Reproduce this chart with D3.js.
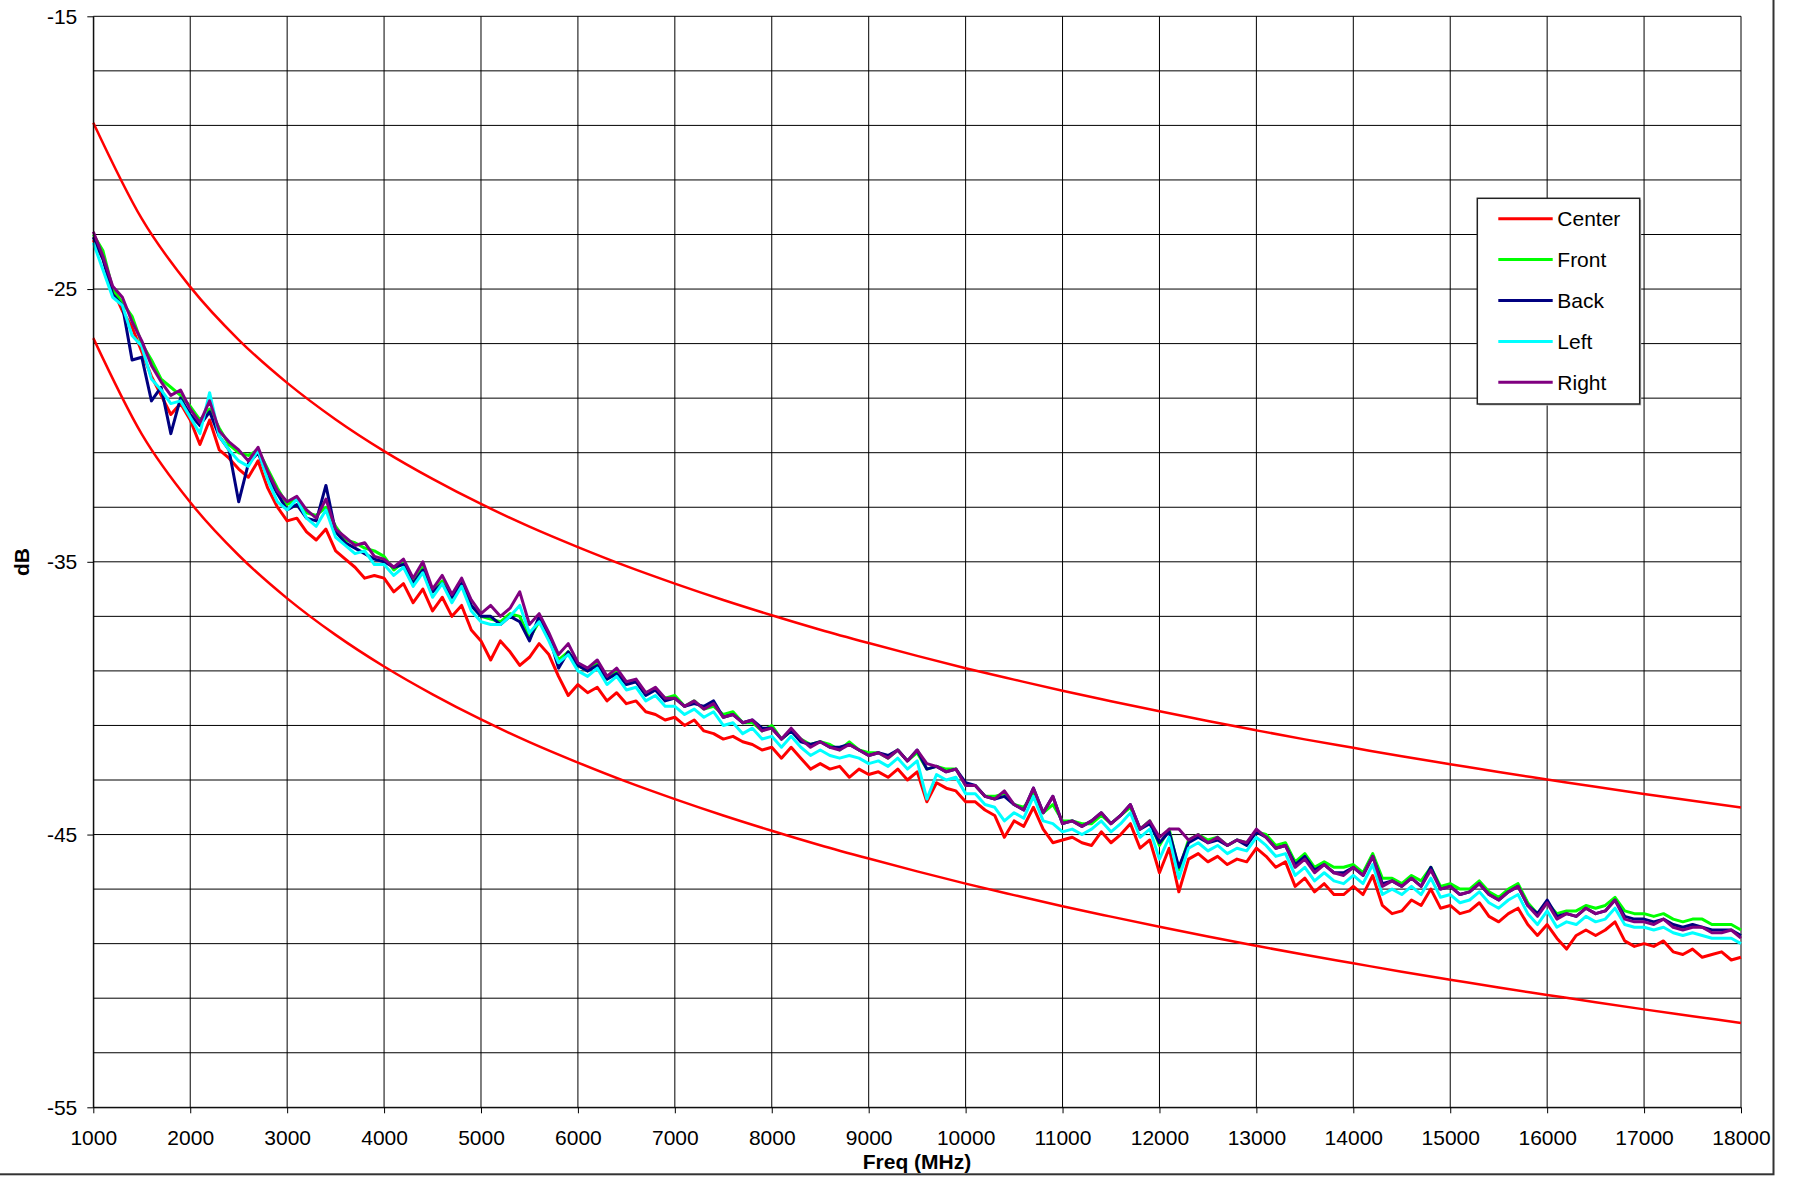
<!DOCTYPE html>
<html>
<head>
<meta charset="utf-8">
<script src="https://d3js.org/d3.v7.min.js"></script>
<style>
  body { margin: 0; background: #fff; }
  svg { display: block; font-family: 'Liberation Sans', Arial, sans-serif; }
</style>
</head>
<body>
<div id="chart"></div>
<script>
// axis ticks
const xTicks = [1000, 2000, 3000, 4000, 5000, 6000, 7000, 8000, 9000, 10000, 11000, 12000, 13000, 14000, 15000, 16000, 17000, 18000];
const yTicks = [-15, -25, -35, -45, -55];
const yGrid = [-15, -17, -19, -21, -23, -25, -27, -29, -31, -33, -35, -37, -39, -41, -43, -45, -47, -49, -51, -53, -55];

// sweep is sampled every 100 MHz
const freqs = d3.range(1000, 18001, 100);

const seriesNames = ['Center', 'Front', 'Back', 'Left', 'Right'];
const seriesColors = ['#ff0000', '#00ff00', '#000080', '#00ffff', '#800080'];

const center = [
  -23.2, -23.9, -25.0, -25.8, -26.4, -27.3, -28.2, -28.9, -29.6, -29.2,
  -29.8, -30.7, -29.8, -30.9, -31.2, -31.6, -31.9, -31.3, -32.3, -33.0,
  -33.5, -33.4, -33.9, -34.2, -33.8, -34.6, -34.9, -35.2, -35.6, -35.5,
  -35.6, -36.1, -35.8, -36.5, -36.0, -36.8, -36.3, -37.0, -36.6, -37.5,
  -37.9, -38.6, -37.9, -38.3, -38.8, -38.5, -38.0, -38.4, -39.2, -39.9,
  -39.5, -39.8, -39.6, -40.1, -39.8, -40.2, -40.1, -40.5, -40.6, -40.8,
  -40.7, -41.0, -40.8, -41.2, -41.3, -41.5, -41.4, -41.6, -41.7, -41.9,
  -41.8, -42.2, -41.8, -42.2, -42.6, -42.4, -42.6, -42.5, -42.9, -42.6,
  -42.8, -42.7, -42.9, -42.6, -43.0, -42.7, -43.8, -43.1, -43.3, -43.4,
  -43.8, -43.8, -44.1, -44.3, -45.1, -44.5, -44.7, -44.0, -44.8, -45.3,
  -45.2, -45.1, -45.3, -45.4, -44.9, -45.3, -45.0, -44.6, -45.5, -45.2,
  -46.4, -45.5, -47.1, -45.9, -45.7, -46.0, -45.8, -46.1, -45.9, -46.0,
  -45.5, -45.8, -46.2, -46.0, -46.9, -46.6, -47.1, -46.8, -47.2, -47.2,
  -46.9, -47.2, -46.5, -47.6, -47.9, -47.8, -47.4, -47.6, -47.0, -47.7,
  -47.6, -47.9, -47.8, -47.5, -48.0, -48.2, -47.9, -47.7, -48.3, -48.7,
  -48.3, -48.8, -49.2, -48.7, -48.5, -48.7, -48.5, -48.2, -48.9, -49.1,
  -49.0, -49.1, -48.9, -49.3, -49.4, -49.2, -49.5, -49.4, -49.3, -49.6,
  -49.5,
];

const front = [
  -23.0, -23.6, -25.0, -25.5, -26.0, -27.0, -27.6, -28.3, -28.6, -28.9,
  -29.3, -29.8, -29.4, -30.1, -30.7, -31.0, -31.1, -30.9, -31.6, -32.3,
  -32.9, -32.7, -33.2, -33.3, -33.0, -33.7, -34.2, -34.3, -34.5, -34.6,
  -34.8, -35.3, -35.0, -35.7, -35.2, -36.1, -35.7, -36.3, -35.8, -36.6,
  -37.0, -37.1, -37.2, -36.9, -37.0, -37.8, -37.2, -37.7, -38.6, -38.3,
  -38.8, -39.0, -38.7, -39.3, -39.0, -39.4, -39.4, -39.8, -39.7, -40.0,
  -39.9, -40.3, -40.1, -40.4, -40.3, -40.6, -40.5, -40.9, -40.9, -41.2,
  -41.0, -41.5, -41.2, -41.5, -41.7, -41.6, -41.7, -41.9, -41.6, -41.9,
  -42.0, -42.0, -42.2, -41.9, -42.3, -42.0, -42.6, -42.5, -42.6, -42.6,
  -43.2, -43.2, -43.6, -43.6, -43.5, -43.9, -44.0, -43.5, -44.2, -43.9,
  -44.5, -44.5, -44.6, -44.6, -44.3, -44.6, -44.3, -44.0, -44.8, -44.5,
  -45.4, -44.8, -46.3, -45.2, -45.0, -45.2, -45.1, -45.4, -45.2, -45.3,
  -44.9, -45.0, -45.4, -45.3, -46.0, -45.7, -46.2, -46.0, -46.2, -46.2,
  -46.1, -46.4, -45.7, -46.6, -46.6, -46.8, -46.5, -46.7, -46.2, -46.9,
  -46.8, -47.0, -47.0, -46.7, -47.1, -47.3, -47.0, -46.8, -47.5, -47.9,
  -47.5, -47.9, -47.8, -47.8, -47.6, -47.7, -47.6, -47.3, -47.8, -47.9,
  -47.9, -48.0, -47.9, -48.1, -48.2, -48.1, -48.1, -48.3, -48.3, -48.3,
  -48.5,
];

const back = [
  -23.1, -23.9, -25.2, -25.6, -27.6, -27.5, -29.1, -28.6, -30.3, -29.0,
  -29.6, -30.0, -29.5, -30.4, -30.9, -32.8, -31.4, -31.0, -31.9, -32.5,
  -33.1, -32.9, -33.4, -33.5, -32.2, -33.9, -34.3, -34.5, -34.7, -34.9,
  -35.0, -35.2, -35.1, -35.8, -35.3, -36.1, -35.8, -36.3, -35.8, -36.6,
  -37.0, -37.0, -37.3, -37.0, -37.2, -37.9, -37.0, -37.7, -38.9, -38.3,
  -38.8, -39.0, -38.8, -39.3, -39.1, -39.5, -39.4, -39.9, -39.7, -40.1,
  -40.0, -40.3, -40.2, -40.3, -40.1, -40.7, -40.6, -40.9, -40.8, -41.1,
  -41.1, -41.5, -41.2, -41.6, -41.7, -41.6, -41.8, -41.8, -41.7, -41.9,
  -42.1, -42.0, -42.1, -41.9, -42.3, -41.9, -42.6, -42.5, -42.7, -42.6,
  -43.1, -43.2, -43.6, -43.7, -43.6, -43.9, -44.1, -43.3, -44.2, -43.6,
  -44.6, -44.5, -44.7, -44.5, -44.2, -44.6, -44.3, -43.9, -44.8, -44.6,
  -45.3, -44.9, -46.2, -45.3, -45.1, -45.3, -45.2, -45.4, -45.2, -45.4,
  -44.9, -45.1, -45.5, -45.4, -46.1, -45.8, -46.3, -46.1, -46.4, -46.4,
  -46.2, -46.5, -45.8, -46.8, -46.7, -46.9, -46.6, -46.9, -46.2, -47.0,
  -46.9, -47.2, -47.1, -46.8, -47.2, -47.4, -47.1, -46.9, -47.6, -47.9,
  -47.4, -48.0, -47.9, -48.0, -47.7, -47.9, -47.8, -47.4, -48.0, -48.1,
  -48.1, -48.2, -48.1, -48.3, -48.4, -48.3, -48.4, -48.5, -48.5, -48.5,
  -48.7,
];

const left = [
  -23.3, -24.3, -25.3, -25.6, -26.7, -27.1, -28.3, -28.7, -29.2, -29.1,
  -29.7, -30.3, -28.8, -30.4, -30.9, -31.3, -31.5, -30.9, -32.0, -32.8,
  -33.1, -32.7, -33.4, -33.7, -33.1, -34.1, -34.4, -34.7, -34.6, -35.1,
  -35.1, -35.5, -35.2, -35.9, -35.4, -36.3, -35.8, -36.5, -35.9, -36.8,
  -37.2, -37.3, -37.3, -37.0, -36.6, -37.6, -37.2, -37.9, -38.7, -38.4,
  -39.0, -39.2, -38.9, -39.5, -39.2, -39.7, -39.6, -40.1, -39.9, -40.3,
  -40.3, -40.6, -40.4, -40.7, -40.5, -41.0, -40.9, -41.3, -41.1, -41.5,
  -41.4, -41.8, -41.4, -41.8, -42.1, -41.9, -42.1, -42.2, -42.1, -42.2,
  -42.4, -42.3, -42.5, -42.2, -42.6, -42.3, -43.7, -42.8, -43.0, -42.9,
  -43.5, -43.5, -43.9, -44.0, -44.5, -44.2, -44.4, -43.6, -44.5, -44.6,
  -44.9, -44.8, -45.0, -44.8, -44.5, -44.9, -44.6, -44.2, -45.1, -44.8,
  -45.9, -45.1, -46.6, -45.5, -45.3, -45.6, -45.4, -45.7, -45.5, -45.6,
  -45.1, -45.4, -45.8, -45.7, -46.5, -46.2, -46.7, -46.4, -46.7, -46.8,
  -46.5, -46.8, -46.1, -47.2, -47.0, -47.2, -46.9, -47.2, -46.6, -47.3,
  -47.2, -47.5, -47.4, -47.1, -47.5, -47.7, -47.4, -47.2, -47.9, -48.3,
  -47.8, -48.4, -48.2, -48.3, -48.0, -48.2, -48.1, -47.7, -48.3, -48.4,
  -48.4, -48.5, -48.4, -48.6, -48.7, -48.6, -48.7, -48.8, -48.8, -48.8,
  -49.0,
];

const right = [
  -22.9, -23.8, -24.9, -25.3, -26.2, -26.9, -27.8, -28.4, -28.9, -28.7,
  -29.4, -29.9, -29.1, -30.2, -30.6, -30.9, -31.3, -30.8, -31.7, -32.4,
  -32.8, -32.6, -33.1, -33.4, -32.7, -33.8, -34.1, -34.4, -34.3, -34.8,
  -34.9, -35.2, -34.9, -35.6, -35.0, -36.0, -35.5, -36.2, -35.6, -36.4,
  -36.9, -36.6, -37.0, -36.7, -36.1, -37.3, -36.9, -37.6, -38.4, -38.0,
  -38.7, -38.9, -38.6, -39.2, -38.9, -39.4, -39.3, -39.8, -39.6, -40.0,
  -40.0, -40.3, -40.1, -40.4, -40.2, -40.7, -40.6, -40.9, -40.8, -41.2,
  -41.1, -41.5, -41.1, -41.5, -41.8, -41.6, -41.8, -41.9, -41.7, -41.9,
  -42.1, -42.0, -42.2, -41.9, -42.3, -41.9, -42.4, -42.5, -42.7, -42.6,
  -43.2, -43.2, -43.6, -43.7, -43.4, -43.9, -44.1, -43.3, -44.2, -43.6,
  -44.6, -44.5, -44.7, -44.5, -44.2, -44.6, -44.3, -43.9, -44.8, -44.5,
  -45.1, -44.8, -44.8, -45.2, -45.0, -45.3, -45.1, -45.4, -45.2, -45.3,
  -44.8, -45.1, -45.5, -45.4, -46.2, -45.9, -46.4, -46.1, -46.4, -46.5,
  -46.2, -46.5, -45.8, -46.9, -46.7, -46.9, -46.6, -46.9, -46.3, -47.0,
  -46.9, -47.2, -47.1, -46.8, -47.2, -47.4, -47.1, -46.9, -47.6, -48.0,
  -47.5, -48.1, -47.9, -48.0, -47.7, -47.9, -47.8, -47.4, -48.1, -48.2,
  -48.2, -48.3, -48.1, -48.4, -48.5, -48.4, -48.4, -48.6, -48.6, -48.5,
  -48.8,
];

// limit lines, read every 500 MHz
const limitFreqs = [
  1000, 1500, 2000, 2500, 3000, 3500, 4000, 4500, 5000, 5500, 6000, 6500,
  7000, 7500, 8000, 8500, 9000, 9500, 10000, 10500, 11000, 11500, 12000, 12500,
  13000, 13500, 14000, 14500, 15000, 15500, 16000, 16500, 17000, 17500, 18000,
];
const upperLimit = [
  -18.90, -22.42, -24.92, -26.86, -28.44, -29.78, -30.94, -31.96, -32.88, -33.71,
  -34.46, -35.16, -35.80, -36.40, -36.96, -37.49, -37.98, -38.45, -38.90, -39.32,
  -39.73, -40.11, -40.48, -40.84, -41.18, -41.51, -41.82, -42.13, -42.42, -42.71,
  -42.98, -43.25, -43.51, -43.76, -44.01,
];
const lowerLimit = [
  -26.80, -30.32, -32.82, -34.76, -36.34, -37.68, -38.84, -39.86, -40.78, -41.61,
  -42.36, -43.06, -43.70, -44.30, -44.86, -45.39, -45.88, -46.35, -46.80, -47.22,
  -47.63, -48.01, -48.38, -48.74, -49.08, -49.41, -49.72, -50.03, -50.32, -50.61,
  -50.88, -51.15, -51.41, -51.66, -51.91,
];

class SweepChart {
  constructor(selector) {
    this.selector = selector;

    this.width = 1798;
    this.height = 1177;
    this.plot = { left: 93.3, right: 1741, top: 16.3, bottom: 1107.3 };
    this.fontSize = 21;
    this.lineWidth = 3;

    this.svg = null;
    this.scales = { x: null, y: null };
    this.series = seriesNames.map((name, i) => ({
      name,
      color: seriesColors[i],
      values: [center, front, back, left, right][i],
    }));
  }

  draw() {
    return this
      .setUpSVG()
      .setUpScales()
      .drawGrid()
      .drawLines()
      .drawAxes()
      .drawLegend();
  }

  setUpSVG() {
    this.svg = d3.select(this.selector)
      .append('svg')
      .attr('width', this.width)
      .attr('height', this.height);

    this.svg.append('rect')
      .attr('width', this.width)
      .attr('height', this.height)
      .attr('fill', '#fff');

    // outer chart frame, only right and bottom edges fall inside the picture
    this.svg.append('rect')
      .attr('x', -3)
      .attr('y', -3)
      .attr('width', 1776.5)
      .attr('height', 1177.3)
      .attr('fill', 'none')
      .attr('stroke', '#333')
      .attr('stroke-width', 2);

    return this;
  }

  setUpScales() {
    const { left, right, top, bottom } = this.plot;

    this.scales.x = d3.scaleLinear()
      .domain([1000, 18000])
      .range([left, right]);

    this.scales.y = d3.scaleLinear()
      .domain([-55, -15])
      .range([bottom, top]);

    return this;
  }

  drawGrid() {
    const { x, y } = this.scales;
    const { left, right, top, bottom } = this.plot;
    const grid = this.svg.append('g')
      .attr('class', 'grid')
      .attr('stroke', '#000')
      .attr('stroke-width', 1);

    grid.selectAll('line.h')
      .data(yGrid)
      .join('line')
      .attr('class', 'h')
      .attr('x1', left)
      .attr('x2', right)
      .attr('y1', (d) => y(d))
      .attr('y2', (d) => y(d));

    grid.selectAll('line.v')
      .data(xTicks)
      .join('line')
      .attr('class', 'v')
      .attr('x1', (d) => x(d))
      .attr('x2', (d) => x(d))
      .attr('y1', top)
      .attr('y2', bottom);

    return this;
  }

  drawLines() {
    const { x, y } = this.scales;

    const limitLine = d3.line()
      .x((d) => x(d[0]))
      .y((d) => y(d[1]))
      .curve(d3.curveMonotoneX);

    this.svg.append('g')
      .attr('class', 'limits')
      .selectAll('path')
      .data([upperLimit, lowerLimit])
      .join('path')
      .attr('fill', 'none')
      .attr('stroke', '#ff0000')
      .attr('stroke-width', 2.5)
      .attr('d', (values) => limitLine(values.map((v, i) => [limitFreqs[i], v])));

    const sweepLine = d3.line()
      .x((d) => x(d[0]))
      .y((d) => y(d[1]));

    this.svg.append('g')
      .attr('class', 'series')
      .selectAll('path')
      .data(this.series)
      .join('path')
      .attr('fill', 'none')
      .attr('stroke', (d) => d.color)
      .attr('stroke-width', this.lineWidth)
      .attr('stroke-linejoin', 'round')
      .attr('d', (d) => sweepLine(d.values.map((v, i) => [freqs[i], v])));

    return this;
  }

  drawAxes() {
    const { x, y } = this.scales;
    const { left, bottom } = this.plot;
    const styleAxis = (g) => g
      .attr('font-family', null)
      .attr('font-size', this.fontSize)
      .call((a) => a.selectAll('.domain, line').attr('stroke', '#000'))
      .call((a) => a.selectAll('text').attr('fill', '#000'));

    this.svg.append('g')
      .attr('class', 'axis axis-x')
      .attr('transform', `translate(0,${bottom})`)
      .call(d3.axisBottom(x)
        .tickValues(xTicks)
        .tickFormat((d) => `${d}`)
        .tickSize(6)
        .tickSizeOuter(0)
        .tickPadding(16.5))
      .call(styleAxis);

    // plain hyphen for negatives, as in the original
    this.svg.append('g')
      .attr('class', 'axis axis-y')
      .attr('transform', `translate(${left},0)`)
      .call(d3.axisLeft(y)
        .tickValues(yTicks)
        .tickFormat((d) => `${d}`)
        .tickSize(6)
        .tickSizeOuter(0)
        .tickPadding(10))
      .call(styleAxis);

    this.svg.append('text')
      .attr('x', 917)
      .attr('y', 1168.5)
      .attr('text-anchor', 'middle')
      .attr('font-size', this.fontSize)
      .attr('font-weight', 'bold')
      .text('Freq (MHz)');

    this.svg.append('text')
      .attr('transform', 'translate(29,562) rotate(-90)')
      .attr('text-anchor', 'middle')
      .attr('font-size', this.fontSize)
      .attr('font-weight', 'bold')
      .text('dB');

    return this;
  }

  drawLegend() {
    const box = { x: 1477.3, y: 198.3, width: 162.4, height: 205.7 };
    const rowStep = 40.9;

    const legend = this.svg.append('g')
      .attr('class', 'legend')
      .attr('transform', `translate(${box.x},${box.y})`);

    legend.append('rect')
      .attr('x', 1.5)
      .attr('y', 1.5)
      .attr('width', box.width)
      .attr('height', box.height)
      .attr('fill', '#bbb');

    legend.append('rect')
      .attr('width', box.width)
      .attr('height', box.height)
      .attr('fill', '#fff')
      .attr('stroke', '#222')
      .attr('stroke-width', 1.5);

    const rows = legend.selectAll('g.row')
      .data(this.series)
      .join('g')
      .attr('class', 'row')
      .attr('transform', (_, i) => `translate(0,${20.4 + i * rowStep})`);

    rows.append('line')
      .attr('x1', 21)
      .attr('x2', 75.4)
      .attr('stroke', (d) => d.color)
      .attr('stroke-width', this.lineWidth);

    rows.append('text')
      .attr('x', 80)
      .attr('dy', '0.35em')
      .attr('font-size', this.fontSize)
      .attr('fill', '#000')
      .text((d) => d.name);

    return this;
  }
}

new SweepChart('#chart').draw();
</script>
</body>
</html>
